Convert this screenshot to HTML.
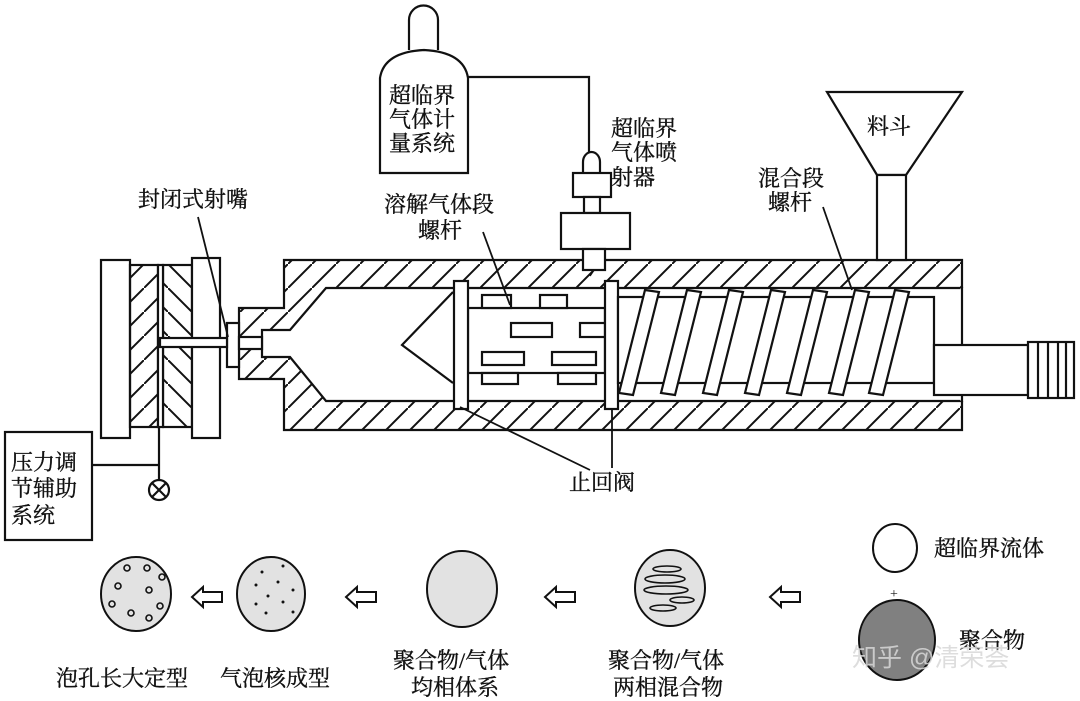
<!DOCTYPE html>
<html><head><meta charset="utf-8"><style>
html,body{margin:0;padding:0;background:#fff;}
svg{display:block;}
text{font-family:"Liberation Serif","Noto Serif CJK SC","Noto Sans CJK SC",serif;font-size:22px;fill:#111;stroke:#111;stroke-width:0.35;}
</style></head><body>
<svg width="1080" height="701" viewBox="0 0 1080 701" xmlns="http://www.w3.org/2000/svg">
<defs>
<pattern id="h1" patternUnits="userSpaceOnUse" width="24" height="24"><line x1="-2" y1="26" x2="26" y2="-2" stroke="#111" stroke-width="2"/></pattern>
<pattern id="h2" patternUnits="userSpaceOnUse" width="24" height="24"><line x1="-2" y1="-2" x2="26" y2="26" stroke="#111" stroke-width="2"/></pattern>
</defs>
<g stroke="#111" stroke-width="2.2" fill="none">
<polygon points="284,260 962,260 962,430 284,430 284,379 239,379 239,308 284,308" fill="url(#h1)"/>
<polygon points="326,288 962,288 962,401 326,401 290,357 262,357 262,330 290,330" fill="#fff"/>
<line x1="962" y1="288" x2="962" y2="401" stroke="#fff" stroke-width="3"/>
<line x1="962" y1="288" x2="962" y2="345"/><line x1="962" y1="395" x2="962" y2="401"/>
<rect x="227" y="323" width="12" height="44" fill="#fff"/>
<rect x="239" y="337" width="23" height="12" fill="#fff"/>
<rect x="101" y="260" width="29" height="178" fill="#fff"/>
<rect x="130" y="265" width="28" height="162" fill="url(#h1)"/>
<rect x="163" y="265" width="29" height="162" fill="url(#h2)"/>
<rect x="158" y="265" width="5" height="162" fill="#fff"/>
<rect x="192" y="258" width="28" height="180" fill="#fff"/>
<rect x="160" y="338" width="67" height="9" fill="#fff"/>
<polyline points="453,292 402,345 453,383"/>
<rect x="468" y="308" width="137" height="65" fill="#fff"/>
<rect x="482" y="295" width="29" height="13" fill="#fff"/>
<rect x="540" y="295" width="27" height="13" fill="#fff"/>
<rect x="511" y="323" width="41" height="14" fill="#fff"/>
<rect x="580" y="323" width="25" height="14" fill="#fff"/>
<rect x="482" y="352" width="42" height="13" fill="#fff"/>
<rect x="552" y="352" width="44" height="13" fill="#fff"/>
<rect x="482" y="373" width="36" height="11" fill="#fff"/>
<rect x="558" y="373" width="38" height="11" fill="#fff"/>
<rect x="454" y="281" width="14" height="128" fill="#fff"/>
<rect x="605" y="281" width="13" height="128" fill="#fff"/>
<rect x="618" y="297" width="316" height="86" fill="#fff"/>
<g fill="#fff">
<polygon points="645,290 659,292 633,395 619,393"/>
<polygon points="687,290 701,292 675,395 661,393"/>
<polygon points="729,290 743,292 717,395 703,393"/>
<polygon points="771,290 785,292 759,395 745,393"/>
<polygon points="813,290 827,292 801,395 787,393"/>
<polygon points="855,290 869,292 843,395 829,393"/>
<polygon points="895,290 909,292 883,395 869,393"/>
</g>
<rect x="934" y="345" width="94" height="50" fill="#fff"/>
<rect x="1028" y="342" width="46" height="56" fill="#fff"/>
<line x1="1038" y1="342" x2="1038" y2="398"/><line x1="1048" y1="342" x2="1048" y2="398"/><line x1="1058" y1="342" x2="1058" y2="398"/><line x1="1066" y1="342" x2="1066" y2="398"/>
<polygon points="827,92 962,92 906,175 877,175" fill="#fff"/>
<rect x="877" y="175" width="29" height="85" fill="#fff"/>
<path d="M409,50 L409,20 A14.5,14.5 0 0 1 438,20 L438,50" fill="#fff"/>
<path d="M380,173 L380,78 Q384,52 424,50 Q464,52 468,78 L468,173 Z" fill="#fff"/>
<polyline points="468,77 589,77 589,153"/>
<path d="M583,173 L583,162 A8.5,10 0 0 1 600,162 L600,173" fill="#fff"/>
<rect x="573" y="173" width="38" height="24" fill="#fff"/>
<rect x="584" y="197" width="16" height="16" fill="#fff"/>
<rect x="561" y="213" width="69" height="36" fill="#fff"/>
<rect x="583" y="249" width="22" height="21" fill="#fff"/>
<line x1="590" y1="276" x2="594" y2="270" stroke-width="1.5"/>
<line x1="198" y1="217" x2="228" y2="337" stroke-width="1.8"/>
<line x1="483" y1="232" x2="510" y2="305" stroke-width="1.8"/>
<line x1="823" y1="207" x2="852" y2="290" stroke-width="1.8"/>
<line x1="460" y1="407" x2="590" y2="470" stroke-width="1.8"/>
<line x1="612" y1="409" x2="612" y2="468" stroke-width="1.8"/>
<rect x="5" y="432" width="87" height="108" fill="#fff"/>
<polyline points="92,465 159,465"/>
<line x1="159" y1="427" x2="159" y2="480"/>
<circle cx="159" cy="490" r="10" fill="#fff"/>
<line x1="152" y1="483" x2="166" y2="497"/><line x1="166" y1="483" x2="152" y2="497"/>
</g>
<text x="389" y="103">超临界</text>
<text x="389" y="127">气体计</text>
<text x="389" y="151">量系统</text>
<text x="611" y="136">超临界</text>
<text x="611" y="160">气体喷</text>
<text x="611" y="185">射器</text>
<text x="867" y="134">料斗</text>
<text x="758" y="186">混合段</text>
<text x="768" y="210">螺杆</text>
<text x="384" y="212">溶解气体段</text>
<text x="418" y="238">螺杆</text>
<text x="138" y="207">封闭式射嘴</text>
<text x="569" y="490">止回阀</text>
<text x="11" y="470">压力调</text>
<text x="11" y="496">节辅助</text>
<text x="11" y="523">系统</text>
<g stroke="#111" stroke-width="2">
<ellipse cx="136" cy="594" rx="35" ry="37" fill="#e2e2e2"/>
<ellipse cx="271" cy="594" rx="34" ry="37" fill="#e2e2e2"/>
<ellipse cx="462" cy="589" rx="35" ry="38" fill="#e2e2e2"/>
<ellipse cx="670" cy="588" rx="35" ry="38" fill="#e2e2e2"/>
<ellipse cx="895" cy="548" rx="22" ry="24" fill="#fff"/>
<ellipse cx="897" cy="640" rx="38" ry="40" fill="#808080"/>
</g>
<g stroke="#111" stroke-width="1.6" fill="none">
<circle cx="127" cy="568" r="3"/><circle cx="147" cy="568" r="3"/><circle cx="162" cy="577" r="3"/>
<circle cx="118" cy="586" r="3"/><circle cx="149" cy="590" r="3"/><circle cx="160" cy="606" r="3"/>
<circle cx="112" cy="604" r="3"/><circle cx="131" cy="613" r="3"/><circle cx="149" cy="618" r="3"/>
<ellipse cx="667" cy="569" rx="14" ry="3"/><ellipse cx="665" cy="579" rx="20" ry="4"/><ellipse cx="666" cy="590" rx="22" ry="4"/>
<ellipse cx="682" cy="600" rx="12" ry="3"/><ellipse cx="663" cy="608" rx="13" ry="3"/>
</g>
<g fill="#111">
<circle cx="262" cy="572" r="1.5"/><circle cx="283" cy="566" r="1.5"/><circle cx="256" cy="585" r="1.5"/><circle cx="278" cy="582" r="1.5"/><circle cx="293" cy="590" r="1.5"/><circle cx="268" cy="596" r="1.5"/><circle cx="283" cy="602" r="1.5"/><circle cx="256" cy="604" r="1.5"/><circle cx="266" cy="613" r="1.5"/><circle cx="293" cy="612" r="1.5"/>
</g>
<g stroke="#111" stroke-width="2" fill="#fff">
<polygon points="192,597 203,587 203,592 222,592 222,602 203,602 203,607"/>
<polygon points="346,597 357,587 357,592 376,592 376,602 357,602 357,607"/>
<polygon points="545,597 556,587 556,592 575,592 575,602 556,602 556,607"/>
<polygon points="770,597 781,587 781,592 800,592 800,602 781,602 781,607"/>
</g>
<text x="890" y="598" style="font-size:14px;stroke-width:0">+</text>
<text x="56" y="686">泡孔长大定型</text>
<text x="220" y="686">气泡核成型</text>
<text x="393" y="668">聚合物/气体</text>
<text x="411" y="695">均相体系</text>
<text x="608" y="668">聚合物/气体</text>
<text x="613" y="695">两相混合物</text>
<text x="934" y="556">超临界流体</text>
<text x="959" y="648">聚合物</text>
<text x="852" y="666" style="fill:#d8d8d8;stroke:none;font-family:'Liberation Sans','Noto Sans CJK SC',sans-serif;font-size:25px;opacity:0.85">知乎 @清荣荟</text>
</svg>
</body></html>
